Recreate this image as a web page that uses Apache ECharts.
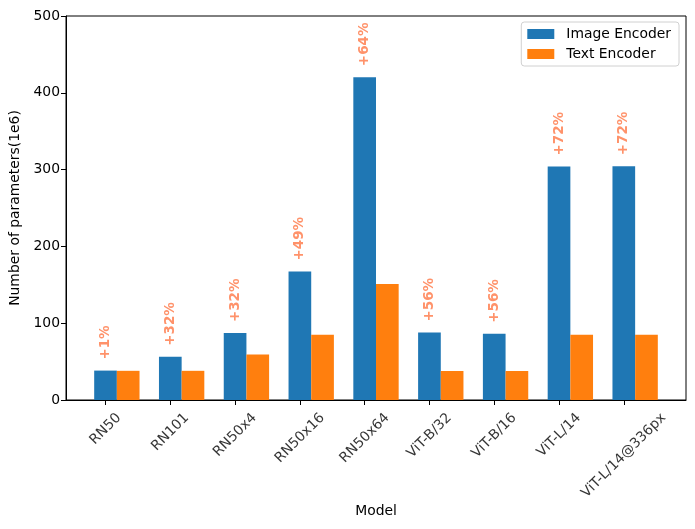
<!DOCTYPE html>
<html>
<head>
<meta charset="utf-8">
<script src="https://cdn.jsdelivr.net/npm/echarts@6/dist/echarts.min.js"></script>
<style>
	html, body { margin: 0; padding: 0; background: #fff; }
	#chart { width: 695px; height: 529px; }
</style>
</head>
<body>
<div id="chart"></div>
<script>
// model names on the x axis
const models = [ 'RN50', 'RN101', 'RN50x4', 'RN50x16', 'RN50x64', 'ViT-B/32', 'ViT-B/16', 'ViT-L/14', 'ViT-L/14@336px' ];
// parameters in millions
const imageEncoder = [ 38.3, 56.3, 87.1, 167.3, 420.4, 87.8, 86.2, 304.0, 304.3 ];
const textEncoder = [ 38.0, 38.0, 59.1, 85.1, 151.1, 37.8, 37.8, 85.1, 85.1 ];
// share of image encoder in the model, shown above the blue bar
const gainLabels = [ '+1%', '+32%', '+32%', '+49%', '+64%', '+56%', '+56%', '+72%', '+72%' ];
const yTicks = [ 0, 100, 200, 300, 400, 500 ];

const FONT = 'DejaVu Sans';
const FS = 13.9;
const BAR = 0.35;
const gridLeft = 66, gridRight = 9, gridTop = 16, gridBottom = 129;
const xMin = -BAR / 2 - 0.435;
const xMax = models.length - 1 + BAR * 1.5 + 0.435;
const pxPerUnit = ( 695 - gridLeft - gridRight ) / ( xMax - xMin );

// measure tick label text so it can be centred under the tick like matplotlib does
const ctx = document.createElement( 'canvas' ).getContext( '2d' );
ctx.font = FS + 'px "' + FONT + '"';
const tickLabelData = models.map( function ( name, i ) {
	let w = ctx.measureText( name ).width;
	let h = 16;
	let d = 10 + ( w + h ) / ( 2 * Math.SQRT2 );
	return {
		value: [ i, 0 ],
		label: { offset: [ -d / Math.SQRT2, d / Math.SQRT2 ] }
	};
} );

const chart = echarts.init( document.getElementById( 'chart' ) );
const option = {
	animation: false,
	textStyle: { fontFamily: FONT },
	grid: {
		left: gridLeft, right: gridRight, top: gridTop, bottom: gridBottom,
		show: true, borderColor: '#000', borderWidth: 1, backgroundColor: 'transparent'
	},
	legend: {
		data: [ 'Image Encoder', 'Text Encoder' ],
		orient: 'vertical',
		right: 16,
		top: 22,
		padding: [ 5, 8, 5, 6 ],
		itemGap: 6,
		itemWidth: 27,
		itemHeight: 10,
		icon: 'rect',
		borderColor: '#d0d0d0',
		borderWidth: 1,
		borderRadius: 3,
		textStyle: { fontSize: FS, color: '#000', fontFamily: FONT, padding: [ 0, 0, 0, 7 ] }
	},
	xAxis: {
		type: 'value',
		min: xMin,
		max: xMax,
		name: 'Model',
		nameLocation: 'middle',
		nameGap: 104,
		nameTextStyle: { fontSize: FS, color: '#000', fontFamily: FONT },
		splitLine: { show: false },
		axisLine: { show: true, onZero: false, lineStyle: { color: '#000' } },
		axisTick: { show: true, length: 5, customValues: models.map( ( m, i ) => i ), lineStyle: { color: '#000' } },
		axisLabel: { show: false }
	},
	yAxis: {
		type: 'value',
		min: 0,
		max: 500,
		interval: 100,
		name: 'Number of parameters(1e6)',
		nameLocation: 'middle',
		nameGap: 43,
		nameTextStyle: { fontSize: FS, color: '#000', fontFamily: FONT },
		splitLine: { show: false },
		axisLine: { show: true, onZero: false, lineStyle: { color: '#000' } },
		axisTick: { show: true, length: 5, lineStyle: { color: '#000' } },
		axisLabel: {
			fontSize: FS, color: '#000', margin: 6, fontFamily: FONT,
			customValues: yTicks
		}
	},
	series: [
		{
			name: 'Image Encoder',
			type: 'bar',
			barWidth: BAR * pxPerUnit,
			barGap: '-100%',
			itemStyle: { color: '#1f77b4' },
			data: imageEncoder.map( ( v, i ) => [ i, v ] ),
			label: {
				show: true,
				position: 'top',
				distance: 11,
				rotate: 90,
				align: 'left',
				verticalAlign: 'middle',
				fontSize: 13.5,
				fontWeight: 'bold',
				fontFamily: FONT,
				color: 'rgba(255,127,80,0.85)',
				formatter: p => gainLabels[p.dataIndex]
			}
		},
		{
			name: 'Text Encoder',
			type: 'bar',
			barWidth: BAR * pxPerUnit,
			barGap: '-100%',
			itemStyle: { color: '#ff7f0e' },
			data: textEncoder.map( ( v, i ) => [ i + BAR, v ] )
		},
		{
			// tick labels under the x axis
			name: 'ticklabels',
			type: 'scatter',
			symbolSize: 0,
			silent: true,
			clip: false,
			data: tickLabelData,
			label: {
				show: true,
				position: 'inside',
				rotate: 45,
				align: 'center',
				verticalAlign: 'middle',
				fontSize: FS,
				fontFamily: FONT,
				color: '#000',
				formatter: p => models[p.dataIndex]
			}
		}
	]
};
chart.setOption( option );
</script>
</body>
</html>
